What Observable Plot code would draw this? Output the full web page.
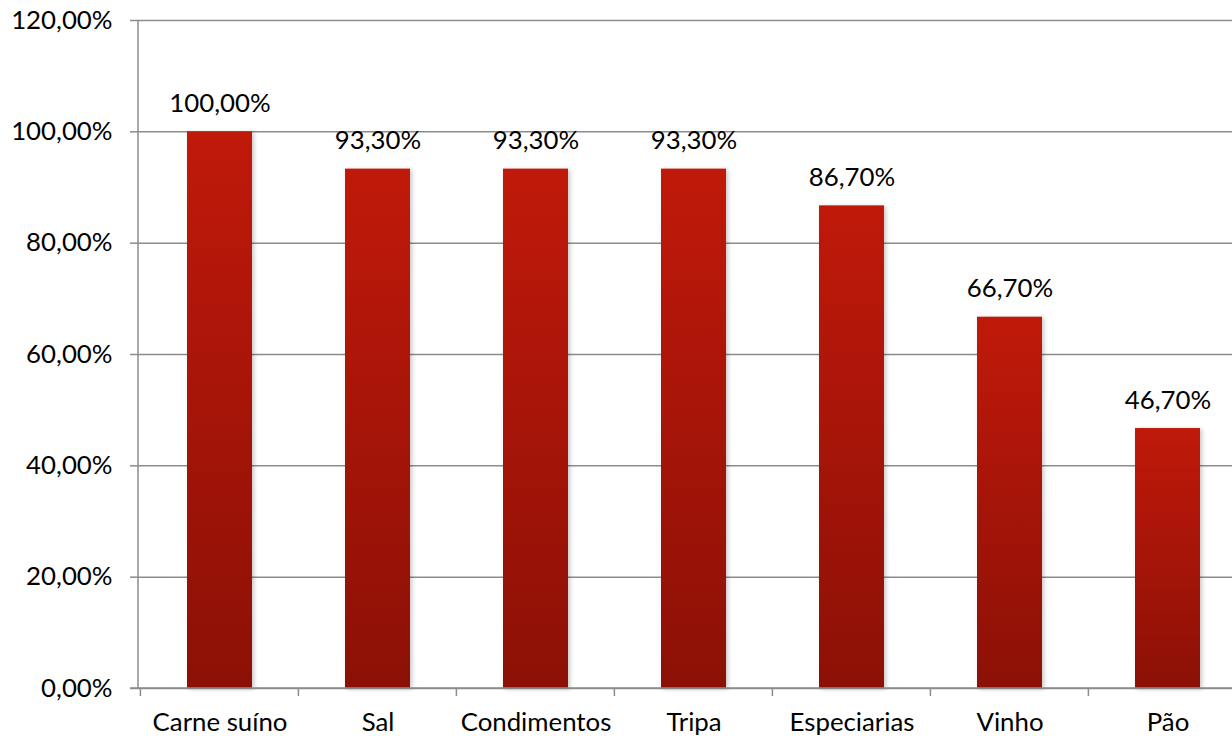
<!DOCTYPE html>
<html><head><meta charset="utf-8">
<script src="https://cdn.jsdelivr.net/npm/d3@7"></script>
<script src="https://cdn.jsdelivr.net/npm/@observablehq/plot@0.6"></script>
<style>
html,body{margin:0;padding:0;background:#fff;overflow:hidden}
#chart svg{max-width:none !important;display:block}
</style>
</head><body><div id="chart"></div>
<script>
const categories = ["Carne suíno", "Sal", "Condimentos", "Tripa", "Especiarias", "Vinho", "Pão"];
const values = [100.0, 93.3, 93.3, 93.3, 86.7, 66.7, 46.7];
const yTicks = [0, 20, 40, 60, 80, 100, 120];

const data = categories.map((c, i) => ({category: c, value: values[i]}));
const fmt = v => v.toFixed(2).replace(".", ",") + "%";
const padInner = 0.59;
const gridColor = "#8c8c8c";
const FONT = "Lato, 'Open Sans', sans-serif";
const FS = 25.8;

const defsMark = () => {
  const defs = d3.create("svg:defs");
  const g = defs.append("linearGradient").attr("id", "barGrad")
    .attr("x1", 0).attr("y1", 0).attr("x2", 0).attr("y2", 1);
  g.append("stop").attr("offset", "0%").attr("stop-color", "#c0190a");
  g.append("stop").attr("offset", "100%").attr("stop-color", "#8c1006");
  return defs.node();
};

const axisLines = (index, scales, vals, dims) => {
  const x = scales.x, y = scales.y;
  const step = x(categories[1]) - x(categories[0]);
  const bw = step * (1 - padInner);
  const g = d3.create("svg:g").attr("stroke", gridColor).attr("stroke-width", 1.5);
  g.append("line").attr("x1", dims.marginLeft).attr("x2", dims.marginLeft)
    .attr("y1", y(yTicks[yTicks.length - 1])).attr("y2", y(0));
  g.append("line").attr("x1", dims.marginLeft - 8).attr("x2", dims.width)
    .attr("y1", y(0)).attr("y2", y(0));
  const bounds = categories.map(c => x(c) - (step - bw) / 2);
  bounds.push(x(categories[categories.length - 1]) + bw + (step - bw) / 2);
  for (const b of bounds) {
    g.append("line").attr("x1", b).attr("x2", b).attr("y1", y(0)).attr("y2", y(0) + 8);
  }
  return g.node();
};

const chart = Plot.plot({
  width: 1248,
  height: 736,
  marginLeft: 138,
  marginRight: 0,
  marginTop: 20,
  marginBottom: 48,
  style: {fontFamily: FONT, fontSize: FS + "px", color: "#000", background: "#fff"},
  x: {domain: categories, paddingInner: padInner, paddingOuter: padInner / 2, align: 0.5},
  y: {domain: [0, 120]},
  marks: [
    defsMark,
    Plot.gridY(yTicks, {stroke: gridColor, strokeOpacity: 1, strokeWidth: 1.5}),
    Plot.barY(data, {x: "category", y: "value", fill: "url(#barGrad)",
      imageFilter: "drop-shadow(2px 1px 2px rgba(0,0,0,0.22))"}),
    axisLines,
    Plot.axisY(yTicks, {tickFormat: fmt, tickSize: 8, tickPadding: 18, stroke: gridColor,
      strokeWidth: 1.5, fill: "#000", fontSize: FS, label: null}),
    Plot.axisX({tickSize: 0, tickPadding: 24, fill: "#000", fontSize: FS, label: null}),
    Plot.text(data, {x: "category", y: "value", text: d => fmt(d.value), dy: -28,
      fontSize: FS, fill: "#000"})
  ]
});
document.getElementById("chart").append(chart);
</script>
</body></html>
